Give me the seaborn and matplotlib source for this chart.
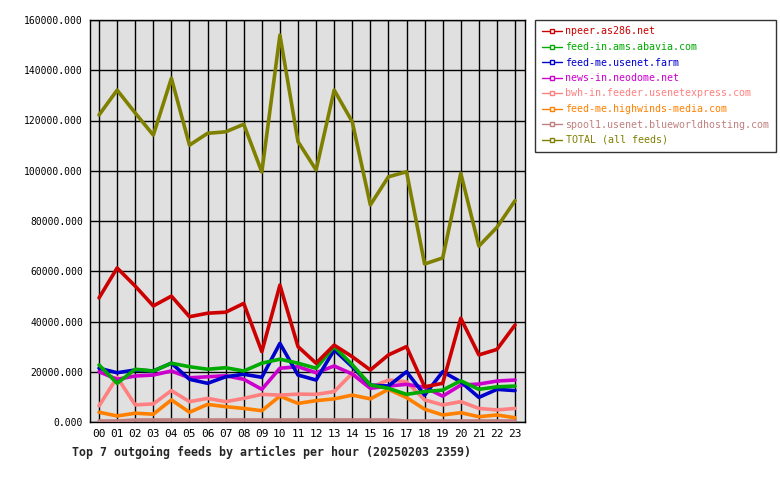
import pandas as pd
import matplotlib
matplotlib.use("Agg")
import matplotlib.pyplot as plt
import seaborn as sns
from matplotlib.lines import Line2D

# Hours on the x axis
hours = ["%02d" % h for h in range(24)]

# Feed names (legend order)
feeds = [
    "npeer.as286.net",
    "feed-in.ams.abavia.com",
    "feed-me.usenet.farm",
    "news-in.neodome.net",
    "bwh-in.feeder.usenetexpress.com",
    "feed-me.highwinds-media.com",
    "spool1.usenet.blueworldhosting.com",
    "TOTAL (all feeds)",
]

# Articles per hour
npeer = [49400, 61300, 54100, 46200, 50100, 41900, 43300, 43700, 47200, 28000, 54500, 30000,
         23400, 30600, 26000, 20700, 26700, 30000, 14000, 15400, 41300, 26700, 28900, 38600]
abavia = [22700, 15400, 21000, 20300, 23400, 22000, 21000, 21600, 20300, 23400, 25000, 23400,
          21400, 30000, 22800, 14700, 13400, 11000, 12100, 12700, 16400, 13000, 14000, 14300]
usenet_farm = [21400, 19600, 20700, 20300, 23400, 17000, 15400, 18000, 19000, 17800, 31300, 18700,
               16700, 28700, 22000, 14700, 14300, 20000, 10700, 20000, 16000, 9800, 13000, 12500]
neodome = [20000, 17000, 18300, 18700, 20300, 17600, 18000, 18400, 17000, 13000, 21400, 22000,
           19600, 22300, 19100, 13400, 14300, 15000, 13800, 10300, 14700, 15100, 16300, 16700]
usenetexpress = [6400, 17800, 6800, 7200, 12500, 8100, 9400, 8100, 9400, 11000, 10700, 11100,
                 11000, 12100, 19400, 13800, 16700, 16000, 8800, 6800, 8100, 5400, 4800, 5400]
highwinds = [3900, 2400, 3500, 3100, 8800, 3900, 7000, 6100, 5400, 4500, 10300, 7400,
             8500, 9200, 10700, 9200, 13000, 9700, 5100, 2800, 3700, 2100, 2800, 1700]
blueworld = [400, 400, 800, 800, 800, 800, 800, 800, 800, 800, 800, 800,
             800, 800, 800, 800, 800, 400, 400, 400, 400, 400, 400, 400]
total = [122200, 132100, 123000, 114200, 136800, 110200, 114900, 115500, 118500, 99500, 154000, 111600,
         100300, 132100, 119500, 86400, 97600, 99600, 62900, 65300, 99000, 70000, 77500, 88100]

series = [npeer, abavia, usenet_farm, neodome, usenetexpress, highwinds, blueworld, total]
colors = ["#cc0000", "#00aa00", "#0000cc", "#cc00cc", "#ff8080", "#ff8000", "#c08080", "#808000"]

rows = []
for name, vals in zip(feeds, series):
    for i, v in enumerate(vals):
        rows.append({"hour": i, "feed": name, "articles": v})
df = pd.DataFrame(rows)

sns.set_style("white")
plt.rcParams["font.family"] = ["DejaVu Sans Mono", "DejaVu Sans"]

fig = plt.figure(figsize=(7.8, 4.8), dpi=100)
ax = fig.add_axes([90 / 780, 1 - 422 / 480, 435 / 780, 402 / 480])
ax.set_facecolor("#e0e0e0")

# draw last feed first so npeer ends on top
for name, col in reversed(list(zip(feeds, colors))):
    sub = df[df["feed"] == name]
    sns.lineplot(data=sub, x="hour", y="articles", color=col, linewidth=2.6,
                 ax=ax, legend=False, zorder=3)

ax.set_xlim(-0.5, 23.55)
ax.set_ylim(0, 160000)
ax.set_xticks(range(24))
ax.set_xticklabels(hours, fontsize=8)
ax.set_yticks(range(0, 160001, 20000))
ax.set_yticklabels(["%d.000" % v for v in range(0, 160001, 20000)], fontsize=7)
ax.grid(True, color="black", linewidth=1)
ax.set_axisbelow(True)
ax.set_xlabel("")
ax.set_ylabel("")
for s in ax.spines.values():
    s.set_color("black")
    s.set_linewidth(1)
ax.tick_params(axis="both", direction="out", length=3, width=1, colors="black", pad=2)

fig.text(72 / 780, 1 - 452 / 480, "Top 7 outgoing feeds by articles per hour (20250203 2359)",
         fontsize=8.4, fontweight="bold", va="center", ha="left")

handles = [Line2D([0], [0], color=c, lw=1, marker="s", markersize=3,
                  markerfacecolor="white", markeredgewidth=1) for c in colors]
leg = fig.legend(handles, feeds, loc="upper left", bbox_to_anchor=(535 / 780, 1 - 20 / 480),
                 fontsize=7.2, frameon=True, fancybox=False, edgecolor="black",
                 handlelength=2.0, handletextpad=0.4, labelspacing=0.55, borderpad=0.65,
                 borderaxespad=0)
leg.get_frame().set_linewidth(1)
for t, c in zip(leg.get_texts(), colors):
    t.set_color(c)

fig.savefig("out.png", dpi=100)
